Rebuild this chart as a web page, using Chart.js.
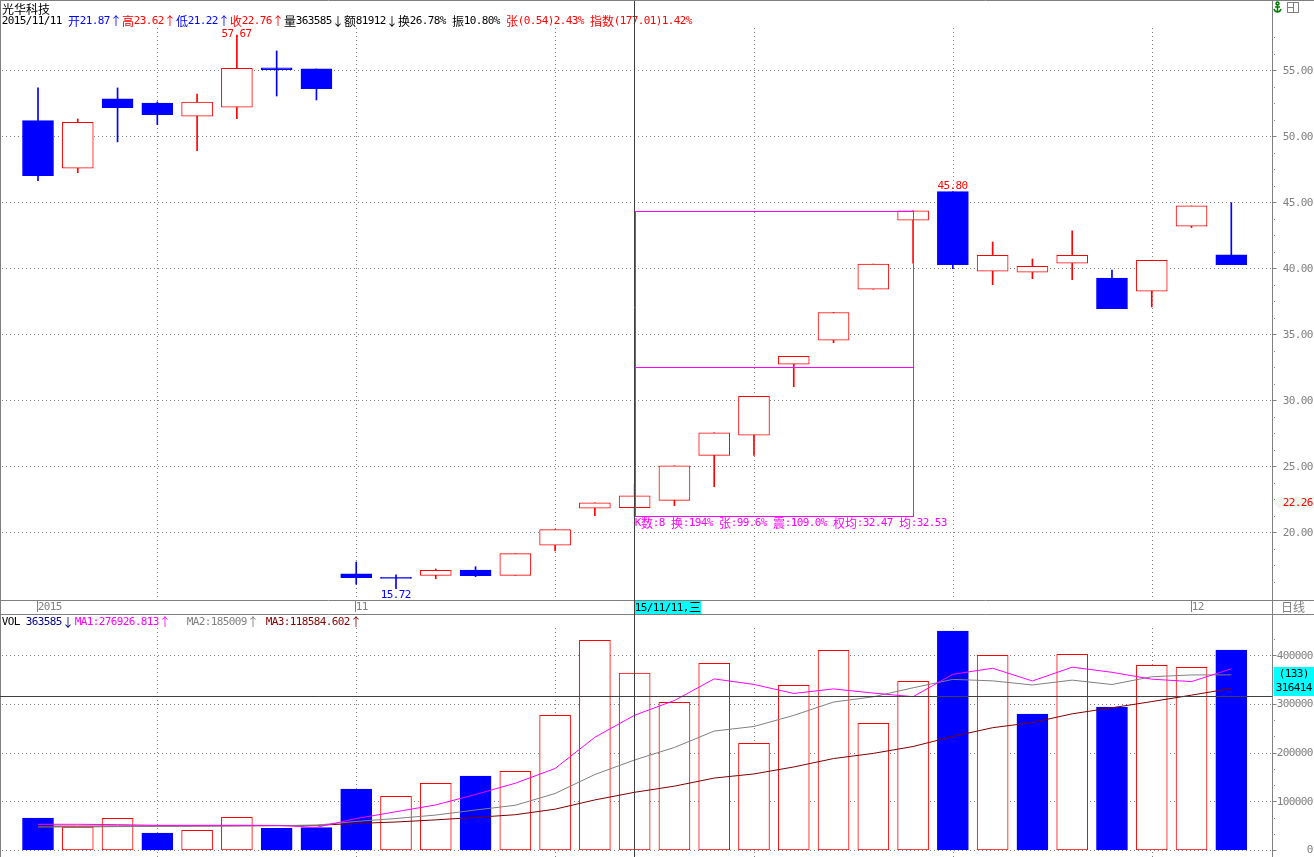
<!DOCTYPE html>
<html>
<head>
<meta charset="utf-8">
<title>光华科技 日线</title>
<script src="https://cdn.jsdelivr.net/npm/chart.js@4.4.1/dist/chart.umd.min.js"></script>
<style>
  html, body { margin: 0; padding: 0; background: #fff; overflow: hidden; }
  #wrap { position: relative; width: 1314px; height: 857px; }
  canvas { position: absolute; left: 0; }
  #priceChart { top: 0; }
  #volChart { top: 614px; }
</style>
</head>
<body>
<div id="wrap">
  <canvas id="priceChart" width="1314" height="614"></canvas>
  <canvas id="volChart" width="1314" height="243"></canvas>
</div>
<script>
// daily candles (31 sessions, Oct 2015 - Dec 2015)
const openP  = [51.18, 47.58, 52.83, 52.52, 51.52, 52.20, 55.18, 55.10, 16.86, 16.58, 16.74, 17.14, 16.74, 19.02, 21.82, 21.87,
                22.42, 25.83, 27.35, 32.73, 34.55, 38.41, 43.64, 45.80, 39.77, 39.70, 40.38, 39.26, 38.26, 43.18, 41.01];
const highP  = [53.66, 51.31, 53.66, 52.60, 53.20, 57.67, 56.46, 55.10, 17.75, 16.77, 17.22, 17.39, 18.38, 20.20, 22.24, 23.62,
                25.04, 27.54, 30.29, 33.32, 36.65, 40.32, 44.35, 45.80, 41.99, 40.70, 42.83, 39.87, 40.61, 44.72, 44.97];
const lowP   = [46.64, 47.24, 49.57, 50.88, 48.91, 51.33, 53.05, 52.75, 16.06, 15.72, 16.48, 16.64, 16.74, 18.58, 21.26, 21.22,
                22.02, 23.45, 25.83, 31.03, 34.36, 38.41, 40.38, 39.97, 38.76, 39.21, 39.14, 36.94, 37.07, 43.08, 40.27];
const closeP = [47.02, 51.06, 52.17, 51.64, 52.58, 55.15, 55.05, 53.61, 16.56, 16.50, 17.12, 16.71, 18.38, 20.20, 22.24, 22.76,
                25.04, 27.54, 30.29, 33.32, 36.65, 40.32, 44.35, 40.27, 40.98, 40.15, 40.98, 36.94, 40.61, 44.72, 40.27];

const volume = [65700, 47300, 65100, 34900, 40400, 67100, 44500, 45900, 125300, 110300, 136900, 152000, 161600, 276700, 430800, 363585,
                303400, 383600, 219200, 338400, 410300, 260300, 346600, 450000, 400000, 279400, 402100, 293800, 379500, 375400, 410900];
const volUp  = [0, 1, 1, 0, 1, 1, 0, 0, 0, 1, 1, 0, 1, 1, 1, 1, 1, 1, 1, 1, 1, 1, 1, 0, 1, 0, 1, 0, 1, 1, 0];

const ma1 = [52800, 52800, 52100, 50700, 50700, 50900, 50400, 46600, 64600, 78600, 92600, 114100, 137200, 167500, 231600, 276927,
             307200, 351600, 340100, 321600, 331000, 322400, 315000, 361100, 373400, 347300, 375600, 365100, 351000, 346000, 372300];
const ma2 = [47300, 47300, 48000, 48500, 49000, 49500, 50000, 51000, 58700, 64700, 71800, 82200, 91900, 116100, 155100, 185009,
             210700, 244400, 253800, 276600, 304000, 314800, 333300, 350600, 347500, 339100, 349000, 340000, 356000, 359700, 359800];
const ma3 = [49000, 49000, 49200, 49400, 49600, 49900, 50200, 50700, 54500, 57500, 61900, 67000, 72500, 83900, 102900, 118585,
             131200, 147800, 156300, 170600, 187900, 198500, 212600, 233300, 251300, 261900, 279800, 292200, 304900, 318200, 331900];

const priceTicks = [20, 25, 30, 35, 40, 45, 50, 55];
const volTicks = [0, 100000, 200000, 300000, 400000];
const gridDays = [4, 9, 14, 19, 24, 29];
const dateTickDays = [1, 9, 30];
const dateTickLabels = ['2015', '11', '12'];
const highMarks = [6, 24];
const lowMarks = [10];
const cursorDay = 16;
const cursorVol = 316414;
const lastPrice = 22.26;
const rangeFrom = 16, rangeTo = 23, rangeAvg = 32.53;

const days = openP.map((_, i) => i + 1);
const up = days.map((d, i) => closeP[i] > openP[i]);

const GRAY = '#808080';
const RED = '#ff0000';
const BLUE = '#0000ff';
const MAGENTA = '#ff00ff';
const MONO = '11px "DejaVu Sans Mono", "Liberation Mono", monospace';
const CJK = '12px "Noto Sans CJK SC", sans-serif';
const AXIS_X = 1272.5;

function textWidth(s) {
  let w = 0;
  for (const c of s) w += c.charCodeAt(0) < 128 ? 6 : 12;
  return w;
}

// fixed cell text, like the terminal's bitmap font: 6px ascii, 12px wide chars
function cellText(ctx, s, x, y, color, align) {
  let cx = x;
  if (align === 'right') cx = x - textWidth(s);
  else if (align === 'center') cx = x - textWidth(s) / 2;
  ctx.save();
  ctx.fillStyle = color;
  ctx.textAlign = 'center';
  ctx.textBaseline = 'middle';
  for (const c of s) {
    const ascii = c.charCodeAt(0) < 128;
    const cw = ascii ? 6 : 12;
    ctx.font = ascii ? MONO : CJK;
    ctx.fillText(c, cx + cw / 2, y + (ascii ? 0.5 : 0));
    cx += cw;
  }
  ctx.restore();
  return cx;
}

function parts(ctx, list, x, y) {
  for (const [s, col] of list) x = cellText(ctx, s, x, y, col);
  return x;
}

function hLine(ctx, x1, x2, y, color, dash) {
  ctx.save();
  ctx.strokeStyle = color;
  ctx.lineWidth = 1;
  ctx.setLineDash(dash || []);
  const yy = Math.round(y) + 0.5;
  ctx.beginPath(); ctx.moveTo(x1, yy); ctx.lineTo(x2, yy); ctx.stroke();
  ctx.restore();
}

function vLine(ctx, x, y1, y2, color, dash) {
  ctx.save();
  ctx.strokeStyle = color;
  ctx.lineWidth = 1;
  ctx.setLineDash(dash || []);
  const xx = Math.round(x) - 0.5;
  ctx.beginPath(); ctx.moveTo(xx, y1); ctx.lineTo(xx, y2); ctx.stroke();
  ctx.restore();
}

// solid 1px box made of filled rects (keeps the colour crisp)
function box(ctx, x1, y1, x2, y2, color) {
  ctx.save();
  ctx.fillStyle = color;
  ctx.fillRect(x1, y1, x2 - x1 + 1, 1);
  ctx.fillRect(x1, y2, x2 - x1 + 1, 1);
  ctx.fillRect(x1, y1, 1, y2 - y1 + 1);
  ctx.fillRect(x2, y1, 1, y2 - y1 + 1);
  ctx.restore();
}

const xAxis = { type: 'linear', min: 0.095, max: 32.023, offset: false, display: false };

const priceDecor = {
  id: 'priceDecor',
  beforeDatasetsDraw(chart) {
    const { ctx, chartArea: a, scales: { x, y } } = chart;
    priceTicks.forEach(v => hLine(ctx, a.left, a.right, y.getPixelForValue(v), GRAY, [1, 3]));
    gridDays.forEach(d => vLine(ctx, x.getPixelForValue(d) + 1, a.top, a.bottom, GRAY, [1, 3]));
  },
  afterDatasetsDraw(chart) {
    const { ctx, chartArea: a, scales: { x, y } } = chart;
    const W = chart.width;

    // interval statistics box
    const i1 = rangeFrom - 1, i2 = rangeTo - 1;
    const hi = Math.max(...highP.slice(i1, i2 + 1));
    const lo = Math.min(...lowP.slice(i1, i2 + 1));
    const bx1 = Math.round(x.getPixelForValue(rangeFrom));
    const bx2 = Math.round(x.getPixelForValue(rangeTo));
    const by1 = Math.round(y.getPixelForValue(hi));
    const by2 = Math.round(y.getPixelForValue(lo));
    const bym = Math.round(y.getPixelForValue(rangeAvg));
    box(ctx, bx1, by1, bx2, by2, MAGENTA);
    ctx.fillStyle = MAGENTA;
    ctx.fillRect(bx1, bym, bx2 - bx1, 1);
    cellText(ctx, 'K数:8 换:194% 张:99.6% 震:109.0% 权均:32.47 均:32.53', bx1, by2 + 7, MAGENTA);

    // extreme price labels
    highMarks.forEach(d => {
      const yy = Math.max(y.getPixelForValue(highP[d - 1]) - 6.5, a.top + 5.5);
      cellText(ctx, highP[d - 1].toFixed(2), x.getPixelForValue(d), yy, RED, 'center');
    });
    lowMarks.forEach(d => {
      cellText(ctx, lowP[d - 1].toFixed(2), x.getPixelForValue(d), y.getPixelForValue(lowP[d - 1]) + 6, BLUE, 'center');
    });

    // header
    cellText(ctx, '光华科技', 2, 9, '#000000');
    parts(ctx, [
      ['2015/11/11 ', '#000000'],
      ['开21.87↑', BLUE],
      ['高23.62↑', RED],
      ['低21.22↑', BLUE],
      ['收22.76↑', RED],
      ['量363585↓额81912↓换26.78% 振10.80% ', '#000000'],
      ['张(0.54)2.43% 指数(177.01)1.42%', RED]
    ], 2, 21);

    // right price axis
    ctx.save();
    ctx.fillStyle = '#ffffff';
    ctx.fillRect(AXIS_X + 0.5, 0, W - AXIS_X, 600);
    ctx.restore();
    vLine(ctx, AXIS_X + 0.5, 0, 614, GRAY);
    ctx.fillStyle = GRAY;
    for (let v = y.min; v <= y.max; v += 0.25) {
      const q = Math.round(v * 4) / 4;
      if (q % 1.25 !== 0 || q % 5 === 0) continue;
      ctx.fillRect(AXIS_X + 1.5, Math.round(y.getPixelForValue(q)), 1, 1);
    }
    priceTicks.forEach(v => {
      hLine(ctx, AXIS_X, AXIS_X + 4, y.getPixelForValue(v), GRAY);
      cellText(ctx, v.toFixed(2), 1283, y.getPixelForValue(v), GRAY);
    });

    // latest price tag
    const ly = y.getPixelForValue(lastPrice);
    ctx.save();
    ctx.fillStyle = '#eef6ee';
    ctx.beginPath();
    ctx.moveTo(AXIS_X + 1, ly);
    ctx.lineTo(AXIS_X + 6, ly - 5.5);
    ctx.lineTo(W, ly - 5.5);
    ctx.lineTo(W, ly + 5.5);
    ctx.lineTo(AXIS_X + 6, ly + 5.5);
    ctx.closePath();
    ctx.fill();
    ctx.restore();
    cellText(ctx, lastPrice.toFixed(2), 1283, ly, RED);

    // date row
    hLine(ctx, 0, W, a.bottom, GRAY);
    dateTickDays.forEach((d, k) => {
      const px = x.getPixelForValue(d);
      vLine(ctx, px, a.bottom + 1, a.bottom + 12, GRAY);
      cellText(ctx, dateTickLabels[k], Math.round(px), a.bottom + 7, GRAY);
    });
    cellText(ctx, '日线', 1293, a.bottom + 7, GRAY, 'center');

    // cursor
    const cx = x.getPixelForValue(cursorDay);
    vLine(ctx, cx, 1, 614, '#404040');
    ctx.save();
    ctx.fillStyle = '#00ffff';
    ctx.fillRect(Math.round(cx), a.bottom + 1, 66, 13);
    ctx.restore();
    cellText(ctx, '15/11/11,三', Math.round(cx), a.bottom + 7.5, '#000000');

    // frame
    hLine(ctx, 0, W, 0, GRAY);
    vLine(ctx, 1, 0, 614, GRAY);

    // small toolbar icons
    ctx.save();
    ctx.strokeStyle = '#008000';
    ctx.lineWidth = 1.5;
    ctx.beginPath();
    ctx.arc(1277.5, 3.5, 1.5, 0, Math.PI * 2);
    ctx.moveTo(1277.5, 5); ctx.lineTo(1277.5, 12);
    ctx.moveTo(1275, 7); ctx.lineTo(1280, 7);
    ctx.moveTo(1274, 9); ctx.quadraticCurveTo(1275, 12, 1277.5, 12); ctx.quadraticCurveTo(1280, 12, 1281, 9);
    ctx.stroke();
    ctx.strokeStyle = GRAY;
    ctx.lineWidth = 1;
    ctx.strokeRect(1287.5, 2.5, 11, 10);
    ctx.beginPath();
    ctx.moveTo(1287.5, 7.5); ctx.lineTo(1293.5, 7.5);
    ctx.moveTo(1293.5, 2.5); ctx.lineTo(1293.5, 12.5);
    ctx.stroke();
    ctx.restore();
  }
};

const volDecor = {
  id: 'volDecor',
  beforeDatasetsDraw(chart) {
    const { ctx, chartArea: a, scales: { x, y } } = chart;
    volTicks.forEach(v => hLine(ctx, a.left, a.right, y.getPixelForValue(v), GRAY, [1, 3]));
    gridDays.forEach(d => vLine(ctx, x.getPixelForValue(d) + 1, a.top, chart.height, GRAY, [1, 3]));
  },
  afterDatasetsDraw(chart) {
    const { ctx, chartArea: a, scales: { x, y } } = chart;
    const W = chart.width, H = chart.height;

    hLine(ctx, 0, W, 0, GRAY);
    vLine(ctx, 1, 0, H, GRAY);

    parts(ctx, [['VOL ', '#000000'], ['363585↓', '#000080']], 2, 8);
    cellText(ctx, 'MA1:276926.813↑', 75, 8, MAGENTA);
    cellText(ctx, 'MA2:185009↑', 187, 8, GRAY);
    cellText(ctx, 'MA3:118584.602↑', 266, 8, '#800000');

    // right volume axis
    ctx.save();
    ctx.fillStyle = '#ffffff';
    ctx.fillRect(AXIS_X + 0.5, 1, W - AXIS_X, H);
    ctx.restore();
    vLine(ctx, AXIS_X + 0.5, 0, H, GRAY);
    ctx.fillStyle = GRAY;
    for (let k = 1; k < 14; k++) {
      if (k % 3 === 0) continue;
      const v = k * 100000 / 3;
      if (v > y.max) break;
      ctx.fillRect(AXIS_X + 1.5, Math.round(y.getPixelForValue(v)), 1, 1);
    }
    volTicks.forEach(v => {
      hLine(ctx, AXIS_X, AXIS_X + 4, y.getPixelForValue(v), GRAY);
      cellText(ctx, String(v), 1313, y.getPixelForValue(v), GRAY, 'right');
    });

    // cursor cross
    const cy = y.getPixelForValue(cursorVol);
    hLine(ctx, 0, AXIS_X, cy, '#404040');
    vLine(ctx, x.getPixelForValue(cursorDay), 0, H, '#404040');
    const by = Math.round(cy) - 29;
    ctx.save();
    ctx.fillStyle = '#00ffff';
    ctx.fillRect(AXIS_X + 1, by, W - AXIS_X - 1, 29);
    ctx.restore();
    cellText(ctx, '(133)', 1294, by + 7, '#000000', 'center');
    cellText(ctx, String(cursorVol), 1294, by + 21, '#000000', 'center');
  }
};

new Chart(document.getElementById('priceChart'), {
  type: 'bar',
  data: {
    datasets: [
      {
        label: 'body',
        order: 0,
        grouped: false,
        data: days.map((d, i) => ({ x: d, y: [openP[i], closeP[i]] })),
        barThickness: 31,
        backgroundColor: c => up[c.dataIndex] ? '#ffffff' : BLUE,
        borderColor: c => up[c.dataIndex] ? RED : BLUE,
        borderWidth: 1,
        borderSkipped: false
      },
      {
        label: 'wick',
        order: 1,
        grouped: false,
        data: days.map((d, i) => ({ x: d, y: [lowP[i], highP[i]] })),
        barThickness: 1,
        backgroundColor: c => up[c.dataIndex] ? RED : BLUE,
        borderWidth: 0
      }
    ]
  },
  options: {
    responsive: false,
    animation: false,
    events: [],
    layout: { padding: { left: 2, right: 42, top: 28, bottom: 14 } },
    plugins: { legend: { display: false }, tooltip: { enabled: false } },
    scales: {
      x: xAxis,
      y: { type: 'linear', min: 14.87, max: 58.20, display: false }
    }
  },
  plugins: [priceDecor]
});

new Chart(document.getElementById('volChart'), {
  type: 'bar',
  data: {
    datasets: [
      { type: 'line', label: 'MA1', order: 0, data: days.map((d, i) => ({ x: d, y: ma1[i] })),
        borderColor: MAGENTA, borderWidth: 1, pointRadius: 0, tension: 0 },
      { type: 'line', label: 'MA2', order: 0, data: days.map((d, i) => ({ x: d, y: ma2[i] })),
        borderColor: GRAY, borderWidth: 1, pointRadius: 0, tension: 0 },
      { type: 'line', label: 'MA3', order: 0, data: days.map((d, i) => ({ x: d, y: ma3[i] })),
        borderColor: '#800000', borderWidth: 1, pointRadius: 0, tension: 0 },
      {
        label: 'VOL',
        order: 1,
        data: days.map((d, i) => ({ x: d, y: volume[i] })),
        barThickness: 31,
        backgroundColor: c => volUp[c.dataIndex] ? '#ffffff' : BLUE,
        borderColor: c => volUp[c.dataIndex] ? RED : BLUE,
        borderWidth: 1,
        borderSkipped: false
      }
    ]
  },
  options: {
    responsive: false,
    animation: false,
    events: [],
    layout: { padding: { left: 2, right: 42, top: 14, bottom: 7 } },
    plugins: { legend: { display: false }, tooltip: { enabled: false } },
    scales: {
      x: xAxis,
      y: { type: 'linear', min: 0, max: 456130, display: false }
    }
  },
  plugins: [volDecor]
});
</script>
</body>
</html>
